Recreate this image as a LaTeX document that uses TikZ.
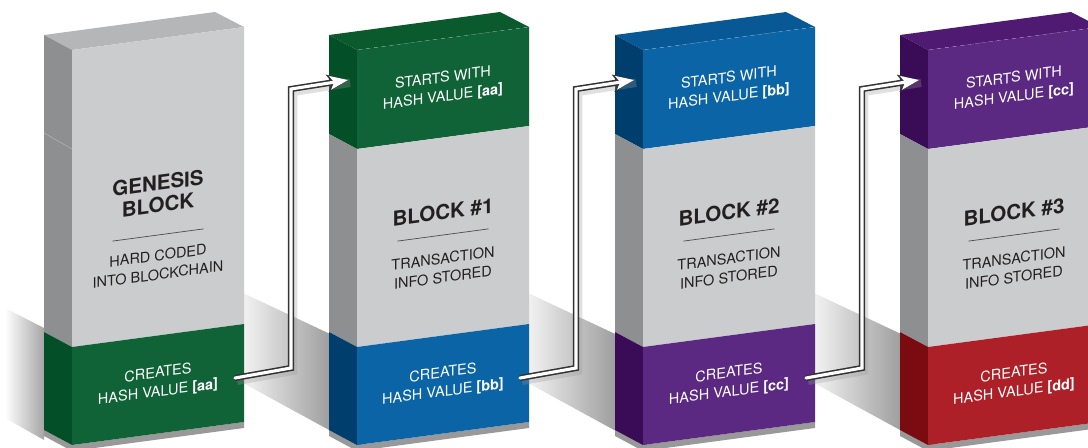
\documentclass[tikz,border=0pt]{standalone}
\usepackage{fontspec}
\setmainfont{TeX Gyre Heros}
\usetikzlibrary{arrows.meta}

\definecolor{grayfront}{HTML}{CBCCCD}
\definecolor{grayside}{HTML}{8D8F91}
\definecolor{graytop}{HTML}{B4B6B8}
\definecolor{greenfront}{HTML}{106336}
\definecolor{greenside}{HTML}{034F27}
\definecolor{greentop}{HTML}{0A5A2E}
\definecolor{bluefront}{HTML}{0B64A6}
\definecolor{blueside}{HTML}{003F6D}
\definecolor{bluetop}{HTML}{095896}
\definecolor{purplefront}{HTML}{5B2882}
\definecolor{purpleside}{HTML}{3A0B56}
\definecolor{purpletop}{HTML}{4E1A72}
\definecolor{redfront}{HTML}{AE2028}
\definecolor{redside}{HTML}{7A0C11}
\definecolor{inkdark}{HTML}{231F20}

\begin{document}
\begin{tikzpicture}[x=0.025cm, y=-0.025cm,
  bandtext/.style={text=white, align=center, inner sep=0pt, yslant=0.134,
    font=\fontsize{10.3}{13.4}\selectfont},
  title/.style={text=inkdark, align=center, inner sep=0pt, yslant=0.134,
    font=\fontsize{14.6}{15.6}\selectfont\bfseries},
  info/.style={text=inkdark, align=center, inner sep=0pt, yslant=0.134,
    font=\fontsize{10.3}{13.4}\selectfont},
  rule/.style={draw=inkdark!80, line width=0.5pt},
  castshadow/.style={left color=black!5, right color=black!50, draw=none},
  baseshadow/.style={fill=black!40, draw=none},
  edgelight/.style={draw=white, opacity=0.3, dashed, line width=0.3pt},
  linkshade/.style={draw=black!40, opacity=0.3, line width=6pt,
    transform canvas={shift={(1.5pt,-2pt)}}},
  linkback/.style={draw=black!80, line width=4.4pt,
    -{Stealth[length=15pt, width=12.5pt, inset=3.5pt, line width=0.3pt]}},
  linkfront/.style={draw=white, line width=2.2pt, line cap=round,
    -{Stealth[length=13pt, width=10pt, inset=3pt, line width=0pt]}}]

  \useasboundingbox (0,0) rectangle (1088,448);

  % Shadow left of the genesis block
  \shade[left color=white, right color=black!35] (5,308) -- (44,328) -- (44,440) -- (5,418) -- cycle;

  % Genesis block
  \begin{scope}[shift={(72,50)}]
    % Shadow thrown to the right and under the block
    \shade[castshadow] (171,243) -- (290,299) -- (290,398) -- (171,333) -- cycle;
    \fill[baseshadow] (-28,380) -- (0,395) -- (172,372) -- (172,378) -- (0,401) -- (-28,386) -- cycle;

    % Faces
    \fill[graytop] (-28,-15) -- (143,-38) -- (172,-23) -- (0,0) -- cycle;
    \fill[grayside] (-28,-15) -- (0,0) -- (0,297) -- (-28,282) -- cycle;
    \fill[grayfront] (0,0) -- (172,-23) -- (172,274) -- (0,297) -- cycle;
    \fill[greenside] (-28,282) -- (0,297) -- (0,395) -- (-28,380) -- cycle;
    \fill[greenfront] (0,297) -- (172,274) -- (172,372) -- (0,395) -- cycle;
    \draw[white, opacity=0.3, line width=0.4pt] (-28,83) -- (0,99);

    % Texts
    \node[title] (name0) at (86,144) {GENESIS\\BLOCK};
    \draw[rule] (40.5,191.1) -- (131.5,178.9);
    \node[info] (info0) at (86,215) {HARD CODED\\INTO BLOCKCHAIN};
    \node[bandtext] (hash0) at (86,333) {CREATES\\HASH VALUE \textbf{[aa]}};
    \coordinate (out0) at (163,328);
  \end{scope}

  % Block #1
  \begin{scope}[shift={(357,50)}]
    % Shadow thrown to the right and under the block
    \shade[castshadow] (171,243) -- (290,299) -- (290,398) -- (171,333) -- cycle;
    \fill[baseshadow] (-28,380) -- (0,395) -- (172,372) -- (172,378) -- (0,401) -- (-28,386) -- cycle;

    % Faces
    \fill[greentop] (-28,-15) -- (143,-38) -- (172,-23) -- (0,0) -- cycle;
    \fill[greenside] (-28,-15) -- (0,0) -- (0,99) -- (-28,84) -- cycle;
    \fill[greenfront] (0,0) -- (172,-23) -- (172,76) -- (0,99) -- cycle;
    \fill[grayside] (-28,84) -- (0,99) -- (0,297) -- (-28,282) -- cycle;
    \fill[grayfront] (0,99) -- (172,76) -- (172,274) -- (0,297) -- cycle;
    \fill[blueside] (-28,282) -- (0,297) -- (0,395) -- (-28,380) -- cycle;
    \fill[bluefront] (0,297) -- (172,274) -- (172,372) -- (0,395) -- cycle;
    \draw[edgelight] (0,0) -- (172,-23);

    % Texts
    \node[bandtext] (start1) at (86,38) {STARTS WITH\\HASH VALUE \textbf{[aa]}};
    \node[title] (name1) at (86,162) {BLOCK \#1};
    \draw[rule] (40.5,191.1) -- (131.5,178.9);
    \node[info] (info1) at (86,218) {TRANSACTION\\INFO STORED};
    \node[bandtext] (hash1) at (86,333) {CREATES\\HASH VALUE \textbf{[bb]}};
    \coordinate (in1) at (-9,30);
    \coordinate (out1) at (163,328);
  \end{scope}

  % Link genesis -> block #1
  \draw[linkshade] (out0) -- ++(56,-10) -- ++(0,-279) -- (in1);
  \draw[linkback] (out0) -- ++(56,-10) -- ++(0,-279) -- (in1);
  \draw[linkfront] (out0) -- ++(56,-10) -- ++(0,-279) -- (in1);

  % Block #2
  \begin{scope}[shift={(643,50)}]
    % Shadow thrown to the right and under the block
    \shade[castshadow] (171,243) -- (290,299) -- (290,398) -- (171,333) -- cycle;
    \fill[baseshadow] (-28,380) -- (0,395) -- (172,372) -- (172,378) -- (0,401) -- (-28,386) -- cycle;

    % Faces
    \fill[bluetop] (-28,-15) -- (143,-38) -- (172,-23) -- (0,0) -- cycle;
    \fill[blueside] (-28,-15) -- (0,0) -- (0,99) -- (-28,84) -- cycle;
    \fill[bluefront] (0,0) -- (172,-23) -- (172,76) -- (0,99) -- cycle;
    \fill[grayside] (-28,84) -- (0,99) -- (0,297) -- (-28,282) -- cycle;
    \fill[grayfront] (0,99) -- (172,76) -- (172,274) -- (0,297) -- cycle;
    \fill[purpleside] (-28,282) -- (0,297) -- (0,395) -- (-28,380) -- cycle;
    \fill[purplefront] (0,297) -- (172,274) -- (172,372) -- (0,395) -- cycle;
    \draw[edgelight] (0,0) -- (172,-23);

    % Texts
    \node[bandtext] (start2) at (86,38) {STARTS WITH\\HASH VALUE \textbf{[bb]}};
    \node[title] (name2) at (86,162) {BLOCK \#2};
    \draw[rule] (40.5,191.1) -- (131.5,178.9);
    \node[info] (info2) at (86,218) {TRANSACTION\\INFO STORED};
    \node[bandtext] (hash2) at (86,333) {CREATES\\HASH VALUE \textbf{[cc]}};
    \coordinate (in2) at (-9,30);
    \coordinate (out2) at (163,328);
  \end{scope}

  % Link block #1 -> block #2
  \draw[linkshade] (out1) -- ++(56,-10) -- ++(0,-279) -- (in2);
  \draw[linkback] (out1) -- ++(56,-10) -- ++(0,-279) -- (in2);
  \draw[linkfront] (out1) -- ++(56,-10) -- ++(0,-279) -- (in2);

  % Block #3 (cut off by the right border)
  \begin{scope}[shift={(928,50)}]
    % Shadow under the block
    \fill[baseshadow] (-28,380) -- (0,395) -- (172,372) -- (172,378) -- (0,401) -- (-28,386) -- cycle;

    % Faces
    \fill[purpletop] (-28,-15) -- (143,-38) -- (172,-23) -- (0,0) -- cycle;
    \fill[purpleside] (-28,-15) -- (0,0) -- (0,99) -- (-28,84) -- cycle;
    \fill[purplefront] (0,0) -- (172,-23) -- (172,76) -- (0,99) -- cycle;
    \fill[grayside] (-28,84) -- (0,99) -- (0,297) -- (-28,282) -- cycle;
    \fill[grayfront] (0,99) -- (172,76) -- (172,274) -- (0,297) -- cycle;
    \fill[redside] (-28,282) -- (0,297) -- (0,395) -- (-28,380) -- cycle;
    \fill[redfront] (0,297) -- (172,274) -- (172,372) -- (0,395) -- cycle;
    \draw[edgelight] (0,0) -- (172,-23);

    % Texts
    \node[bandtext] (start3) at (86,38) {STARTS WITH\\HASH VALUE \textbf{[cc]}};
    \node[title] (name3) at (86,162) {BLOCK \#3};
    \draw[rule] (40.5,191.1) -- (131.5,178.9);
    \node[info] (info3) at (86,218) {TRANSACTION\\INFO STORED};
    \node[bandtext] (hash3) at (86,333) {CREATES\\HASH VALUE \textbf{[dd]}};
    \coordinate (in3) at (-9,30);
  \end{scope}

  % Link block #2 -> block #3
  \draw[linkshade] (out2) -- ++(56,-10) -- ++(0,-279) -- (in3);
  \draw[linkback] (out2) -- ++(56,-10) -- ++(0,-279) -- (in3);
  \draw[linkfront] (out2) -- ++(56,-10) -- ++(0,-279) -- (in3);
\end{tikzpicture}
\end{document}
